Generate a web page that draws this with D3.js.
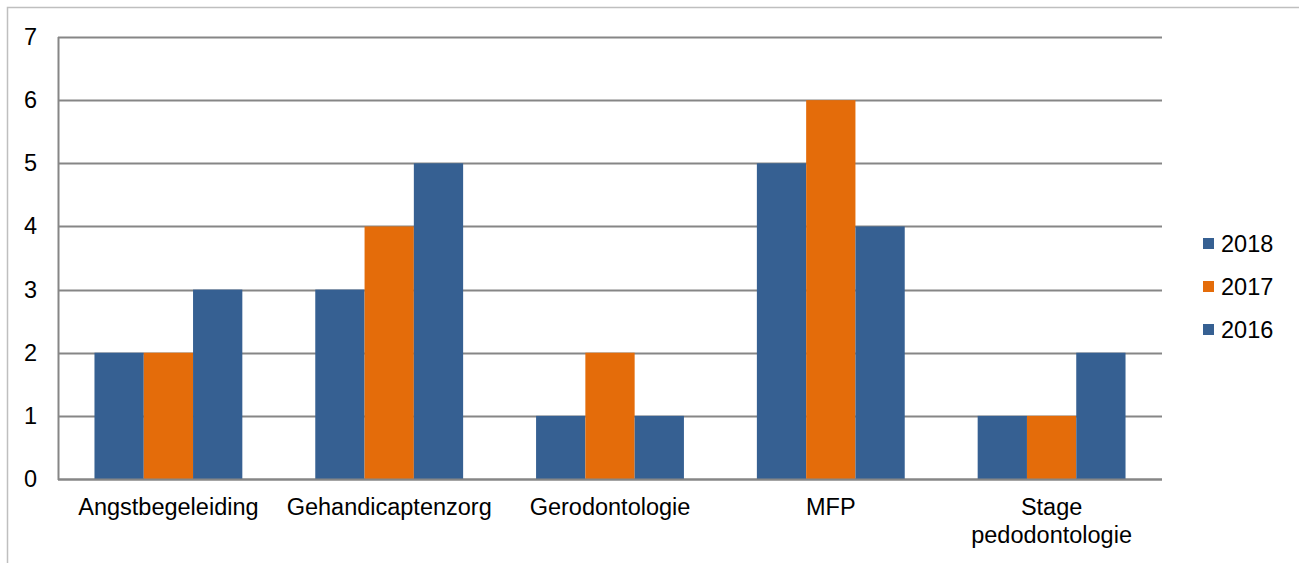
<!DOCTYPE html>
<html>
<head>
<meta charset="utf-8">
<script src="https://cdn.jsdelivr.net/npm/d3@7"></script>
<style>
  html, body { margin: 0; padding: 0; background: #fff; }
  svg { display: block; font-family: "Liberation Sans", Arial, sans-serif; }
</style>
</head>
<body>
<svg id="chart" width="1299" height="563"></svg>
<script>
// Internships per subject, three years
const categories = ["Angstbegeleiding", "Gehandicaptenzorg", "Gerodontologie", "MFP", "Stage pedodontologie"];
const seriesNames = ["2018", "2017", "2016"];
const values2018 = [2, 3, 1, 5, 1];
const values2017 = [2, 4, 2, 6, 1];
const values2016 = [3, 5, 1, 4, 2];
const yTicks = [0, 1, 2, 3, 4, 5, 6, 7];
const colors = ["#366092", "#E46C0A", "#366092"];

const series = [values2018, values2017, values2016];

const svg = d3.select("#chart");
const plot = { left: 58, right: 1162, top: 37, bottom: 479 };
const fontSize = 23.5;
const fontFamily = "Liberation Sans, Arial, sans-serif";

// Outer frame (top and left edge)
svg.append("path")
  .attr("d", "M7.5,563 V7.5 H1299")
  .attr("fill", "none")
  .attr("stroke", "#BFBFBF")
  .attr("stroke-width", 1.5);

const x0 = d3.scaleBand()
  .domain(categories)
  .range([plot.left, plot.right])
  .paddingInner(0)
  .paddingOuter(0);

const x1 = d3.scaleBand()
  .domain(seriesNames)
  .range([0, x0.bandwidth()])
  .paddingInner(0)
  .paddingOuter(0.74);

const y = d3.scaleLinear().domain([0, 7]).range([plot.bottom, plot.top]);

// Gridlines
svg.append("g")
  .selectAll("line")
  .data(yTicks)
  .join("line")
  .attr("x1", plot.left)
  .attr("x2", plot.right)
  .attr("y1", d => Math.round(y(d)) + 0.5)
  .attr("y2", d => Math.round(y(d)) + 0.5)
  .attr("stroke", "#868686")
  .attr("stroke-width", 2);

// Bars
const groups = svg.append("g")
  .selectAll("g")
  .data(categories)
  .join("g")
  .attr("transform", d => `translate(${x0(d)},0)`);

groups.selectAll("rect")
  .data((d, i) => seriesNames.map((s, j) => ({ s, j, v: series[j][i] })))
  .join("rect")
  .attr("x", d => x1(d.s))
  .attr("width", x1.bandwidth())
  .attr("y", d => y(d.v))
  .attr("height", d => y(0) - y(d.v))
  .attr("fill", d => colors[d.j]);

// Axis lines
svg.append("line")
  .attr("x1", plot.left + 0.5).attr("x2", plot.left + 0.5)
  .attr("y1", plot.top).attr("y2", plot.bottom + 1)
  .attr("stroke", "#868686").attr("stroke-width", 2);
svg.append("line")
  .attr("x1", plot.left).attr("x2", plot.right)
  .attr("y1", plot.bottom + 0.5).attr("y2", plot.bottom + 0.5)
  .attr("stroke", "#868686").attr("stroke-width", 2);

// Y axis labels
const yAxis = d3.axisLeft(y).tickValues(yTicks).tickFormat(d3.format("d")).tickSize(0).tickPadding(21);
const yg = svg.append("g").attr("transform", `translate(${plot.left},0)`).call(yAxis);
yg.select(".domain").remove();
yg.attr("font-size", fontSize).attr("font-family", fontFamily);
yg.selectAll("text").attr("fill", "#000");

// X axis labels (wrapped)
const xAxis = d3.axisBottom(x0).tickSize(0).tickPadding(0).tickFormat("");
const xg = svg.append("g").attr("transform", `translate(0,${plot.bottom})`).call(xAxis);
xg.select(".domain").remove();
xg.attr("font-size", fontSize).attr("font-family", fontFamily);
const wraps = { "Stage pedodontologie": ["Stage", "pedodontologie"] };
xg.selectAll(".tick").each(function (d) {
  const lines = wraps[d] || [d];
  const t = d3.select(this).append("text")
    .attr("text-anchor", "middle")
    .attr("fill", "#000");
  lines.forEach((ln, k) => {
    t.append("tspan").attr("x", 0).attr("y", 36 + k * 28).text(ln);
  });
});

// Legend
const legend = svg.append("g").attr("transform", "translate(1203,0)")
  .attr("font-size", fontSize).attr("font-family", fontFamily);
const legendY = [243, 286, 329];
seriesNames.forEach((s, j) => {
  legend.append("rect")
    .attr("x", 0).attr("y", legendY[j] - 5)
    .attr("width", 11).attr("height", 11)
    .attr("fill", colors[j]);
  legend.append("text")
    .attr("x", 18).attr("y", legendY[j] + 9)
    .attr("fill", "#000")
    .text(s);
});
</script>
</body>
</html>
